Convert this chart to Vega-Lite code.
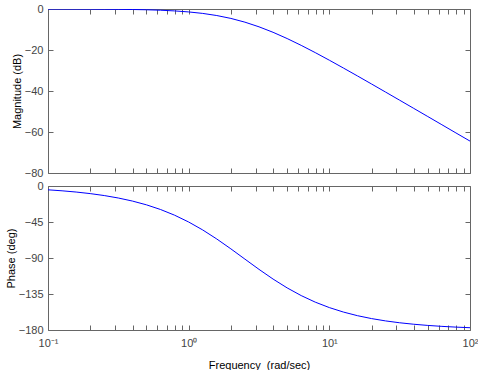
{
  "$schema": "https://vega.github.io/schema/vega-lite/v6.json",
  "padding": {"left": 5, "top": 3, "right": 0, "bottom": 0},
  "bounds": "flush",
  "spacing": 13,
  "config": {
    "font": "Liberation Sans",
    "view": {"stroke": null},
    "axis": {
      "grid": false,
      "domainColor": "#666666",
      "tickColor": "#666666",
      "tickSize": -5,
      "labelColor": "#444444",
      "labelFontSize": 11,
      "labelFont": "Liberation Sans",
      "titleFontSize": 11,
      "titleFont": "Liberation Sans",
      "titleFontWeight": "normal",
      "titleColor": "#000000",
      "labelFlush": false,
      "labelOverlap": false
    },
    "line": {"color": "#0000ff", "strokeWidth": 1}
  },
  "datasets": {
    "bode": [
      {"freq": 0.1, "mag": -0.02, "phase": -4.77},
      {"freq": 0.1259, "mag": -0.03, "phase": -6.0},
      {"freq": 0.1585, "mag": -0.04, "phase": -7.55},
      {"freq": 0.1995, "mag": -0.06, "phase": -9.5},
      {"freq": 0.2512, "mag": -0.1, "phase": -11.94},
      {"freq": 0.3162, "mag": -0.16, "phase": -15.0},
      {"freq": 0.3981, "mag": -0.25, "phase": -18.82},
      {"freq": 0.5012, "mag": -0.38, "phase": -23.55},
      {"freq": 0.631, "mag": -0.6, "phase": -29.39},
      {"freq": 0.7943, "mag": -0.93, "phase": -36.49},
      {"freq": 1, "mag": -1.43, "phase": -45.0},
      {"freq": 1.2589, "mag": -2.15, "phase": -54.95},
      {"freq": 1.5849, "mag": -3.19, "phase": -66.25},
      {"freq": 1.9953, "mag": -4.59, "phase": -78.56},
      {"freq": 2.5119, "mag": -6.42, "phase": -91.41},
      {"freq": 3.1623, "mag": -8.69, "phase": -104.2},
      {"freq": 3.981, "mag": -11.37, "phase": -116.33},
      {"freq": 5.0119, "mag": -14.41, "phase": -127.35},
      {"freq": 6.3096, "mag": -17.74, "phase": -136.98},
      {"freq": 7.943, "mag": -21.28, "phase": -145.18},
      {"freq": 10, "mag": -24.98, "phase": -151.99},
      {"freq": 12.589, "mag": -28.79, "phase": -157.57},
      {"freq": 15.849, "mag": -32.66, "phase": -162.09},
      {"freq": 19.953, "mag": -36.58, "phase": -165.73},
      {"freq": 25.119, "mag": -40.53, "phase": -168.64},
      {"freq": 31.623, "mag": -44.49, "phase": -170.96},
      {"freq": 39.81, "mag": -48.47, "phase": -172.81},
      {"freq": 50.119, "mag": -52.46, "phase": -174.28},
      {"freq": 63.096, "mag": -56.45, "phase": -175.46},
      {"freq": 79.43, "mag": -60.45, "phase": -176.4},
      {"freq": 100, "mag": -64.44, "phase": -177.13}
    ]
  },
  "vconcat": [
    {
      "width": 422,
      "height": 164,
      "data": {"name": "bode"},
      "layer": [
        {
          "mark": {"type": "line", "clip": true},
          "encoding": {
            "x": {"field": "freq", "type": "quantitative",
              "scale": {"type": "log", "domain": [0.1, 100], "nice": false},
              "axis": {"orient": "bottom", "labels": false, "title": null,
                "values": [0.1,0.2,0.3,0.4,0.5,0.6,0.7,0.8,0.9,1,2,3,4,5,6,7,8,9,10,20,30,40,50,60,70,80,90,100]}},
            "y": {"field": "mag", "type": "quantitative",
              "scale": {"domain": [-80, 0], "nice": false},
              "axis": {"title": "Magnitude (dB)", "values": [0, -20, -40, -60, -80], "labelPadding": 10, "titlePadding": 2}}
          }
        },
        {
          "mark": {"type": "point", "opacity": 0},
          "encoding": {
            "x": {"field": "freq", "type": "quantitative",
              "axis": {"orient": "top", "labels": false, "title": null,
                "values": [0.1,0.2,0.3,0.4,0.5,0.6,0.7,0.8,0.9,1,2,3,4,5,6,7,8,9,10,20,30,40,50,60,70,80,90,100]}},
            "y": {"field": "mag", "type": "quantitative",
              "axis": {"orient": "right", "labels": false, "title": null, "values": [0, -20, -40, -60, -80]}}
          }
        }
      ],
      "resolve": {"axis": {"x": "independent", "y": "independent"}}
    },
    {
      "width": 422,
      "height": 144,
      "data": {"name": "bode"},
      "layer": [
        {
          "mark": {"type": "line", "clip": true},
          "encoding": {
            "x": {"field": "freq", "type": "quantitative",
              "scale": {"type": "log", "domain": [0.1, 100], "nice": false},
              "axis": {"orient": "bottom", "title": "Frequency\u00a0 (rad/sec)", "labelPadding": 12, "titlePadding": 11,
                "labelExpr": "datum.value == 0.1 ? '10⁻¹' : datum.value == 1 ? '10⁰' : datum.value == 10 ? '10¹' : datum.value == 100 ? '10²' : ''",
                "values": [0.1,0.2,0.3,0.4,0.5,0.6,0.7,0.8,0.9,1,2,3,4,5,6,7,8,9,10,20,30,40,50,60,70,80,90,100]}},
            "y": {"field": "phase", "type": "quantitative",
              "scale": {"domain": [-180, 0], "nice": false},
              "axis": {"title": "Phase (deg)", "values": [0, -45, -90, -135, -180], "labelPadding": 10, "titlePadding": 2}}
          }
        },
        {
          "mark": {"type": "point", "opacity": 0},
          "encoding": {
            "x": {"field": "freq", "type": "quantitative",
              "axis": {"orient": "top", "labels": false, "title": null,
                "values": [0.1,0.2,0.3,0.4,0.5,0.6,0.7,0.8,0.9,1,2,3,4,5,6,7,8,9,10,20,30,40,50,60,70,80,90,100]}},
            "y": {"field": "phase", "type": "quantitative",
              "axis": {"orient": "right", "labels": false, "title": null, "values": [0, -45, -90, -135, -180]}}
          }
        }
      ],
      "resolve": {"axis": {"x": "independent", "y": "independent"}}
    }
  ]
}
